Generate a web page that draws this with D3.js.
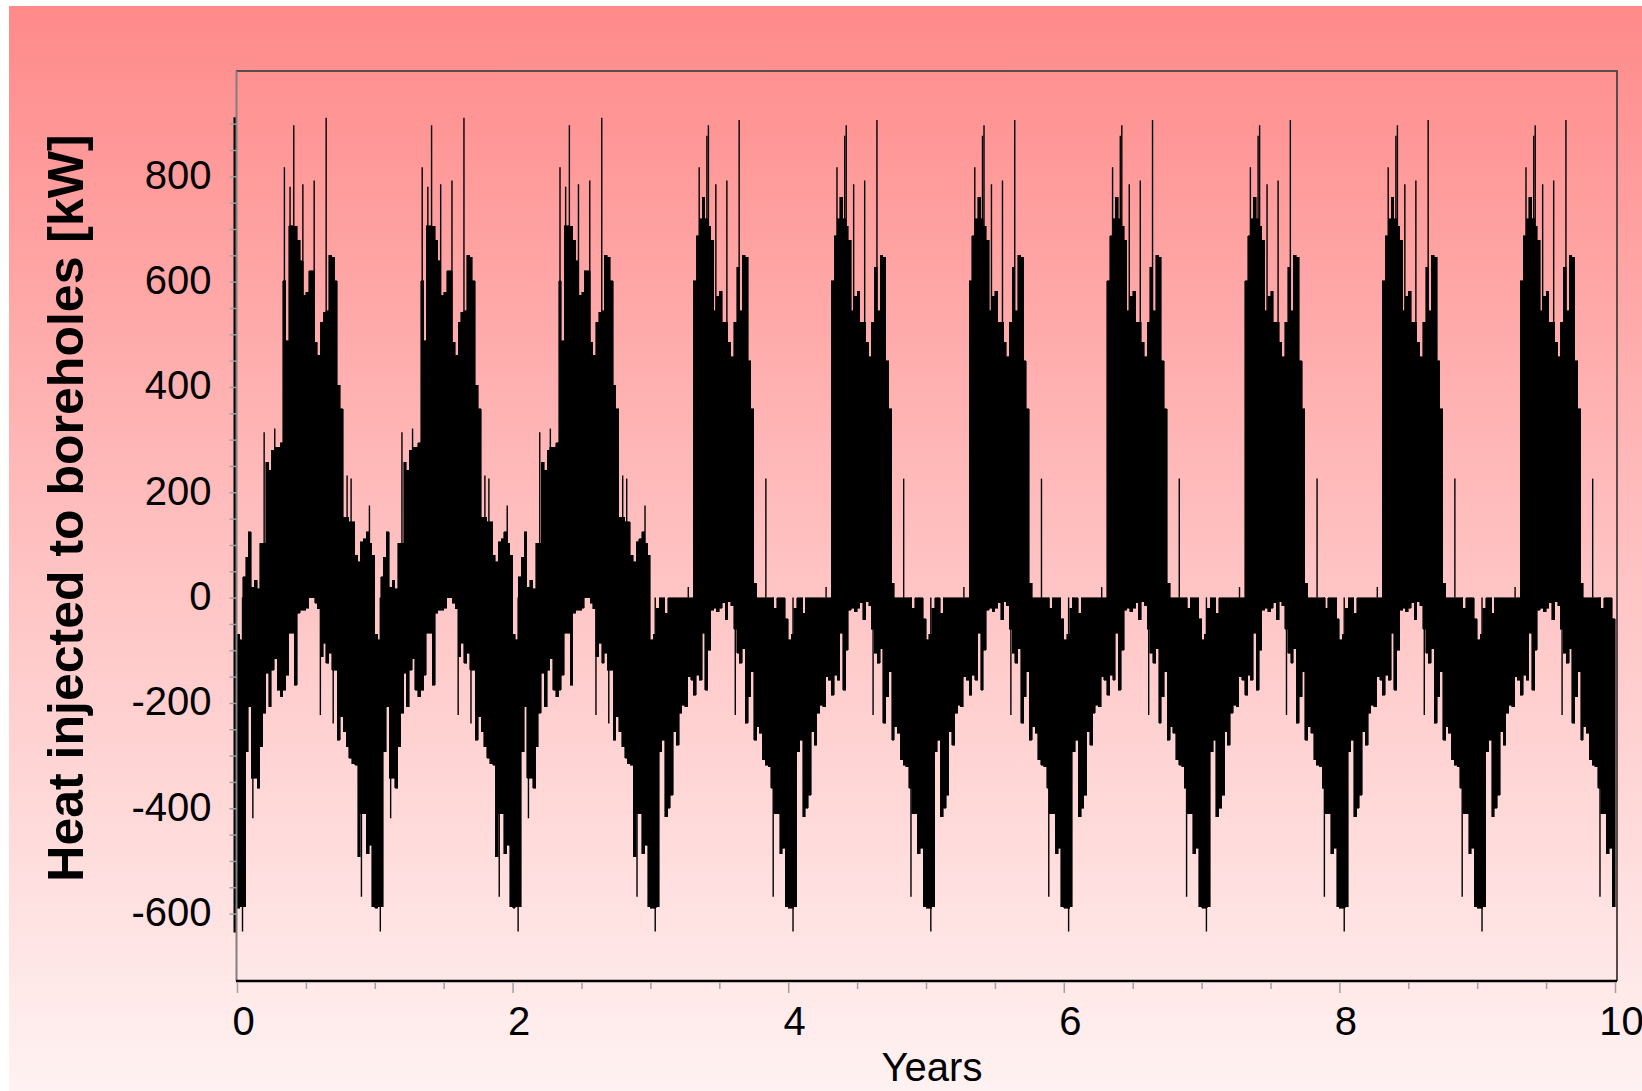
<!DOCTYPE html>
<html>
<head>
<meta charset="utf-8">
<script src="https://cdn.jsdelivr.net/npm/d3@7"></script>
<style>
    body { margin: 0; background: #ffffff; }
    svg text { font-family: "Liberation Sans", Arial, sans-serif; }
</style>
</head>
<body>
<div id="chart"></div>
<script>
// Values (kW), 48 bins per year
const years = [0, 1, 2, 3, 4, 5, 6, 7, 8, 9];
const profileOfYear = ["A", "A", "A", "B", "B", "B", "B", "B", "B", "B"];

// years 0-2
const hiA = [-70, -80, 40, 77, 125, 20, 33, 17, 103, 103, 257, 242, 280, 286, 286, 294,
             602, 488, 706, 706, 705, 679, 640, 574, 580, 621, 621, 485, 460, 523, 542, 545,
             650, 646, 602, 403, 359, 153, 153, 144, 144, 80, 68, 106, 112, 125, 103, 80];
const loA = [-590, -587, -587, -293, -207, -343, -343, -362, -283, -220, -144, -207, -138, -116, -176, -188,
             -176, -147, -68, -68, -166, -30, -24, -24, -20, 0, 0, -11, -21, -112, -87, -125,
             -106, -138, -138, -271, -226, -255, -283, -305, -315, -318, -492, -410, -410, -486, -470, -587];

// years 3-9
const hiB = [-80, -70, -20, 0, 0, -30, 0, 0, 0, 0, 0, 0, 0, 0, 0, 602,
             687, 719, 760, 719, 705, 679, 545, 572, 582, 523, 523, 485, 457, 523, 627, 545,
             650, 646, 450, 359, 27, 0, 0, 0, 0, 0, 0, -20, 0, 0, 0, -40];
const loB = [-590, -590, -587, -293, -271, -416, -400, -375, -255, -280, -220, -204, -207, -150, -157, -185,
             -147, -157, -68, -176, -100, -24, -20, -27, -20, -10, -42, -8, -15, -60, -106, -125,
             -97, -239, -188, -141, -271, -245, -258, -308, -318, -321, -362, -410, -410, -486, -476, -587];

// thin single spikes: [fraction of year, kW]
const spikesA = [[0.197, 314], [0.274, 321], [0.344, 817], [0.385, 780], [0.412, 897], [0.478, 785],
                 [0.56, 792], [0.647, 911], [0.799, 232], [0.828, 226], [0.961, 175],
                 [0.04, -634], [0.115, -419], [0.605, -223], [0.698, -239], [0.903, -568]];
const spikesB = [[0.275, 20], [0.354, 817], [0.41, 877], [0.421, 897], [0.475, 785], [0.555, 792],
                 [0.644, 907], [0.838, 226], [0.035, -634], [0.616, -223], [0.891, -568]];

const startSpike = [-636, 912];

const yTickLabels = [-600, -400, -200, 0, 200, 400, 600, 800];
const xTickLabels = [0, 2, 4, 6, 8, 10];

const W = 1642, H = 1091;
const plotLeft = 237, plotRight = 1615, plotTop = 71, plotBottom = 981;

const profiles = {
    A: { hi: hiA, lo: loA, spikes: spikesA },
    B: { hi: hiB, lo: loB, spikes: spikesB }
};

let svg = d3.select("#chart")
    .append("svg")
    .attr("width", W)
    .attr("height", H);

// background gradient
let grad = svg.append("defs").append("linearGradient")
    .attr("id", "bg")
    .attr("x1", 0).attr("y1", 0).attr("x2", 0).attr("y2", 1);
grad.append("stop").attr("offset", "0%").attr("stop-color", "#ff8a8a");
grad.append("stop").attr("offset", "55%").attr("stop-color", "#ffc6c6");
grad.append("stop").attr("offset", "100%").attr("stop-color", "#fff2f2");

svg.append("rect")
    .attr("x", 9).attr("y", 6)
    .attr("width", W - 9).attr("height", H - 6)
    .attr("fill", "url(#bg)");

let x = d3.scaleLinear().domain([0, 10]).range([plotLeft, plotRight]);
let y = d3.scaleLinear().domain([-728, 1000]).range([plotBottom, plotTop]);

// build series bins
let bins = [];
years.forEach((yr, i) => {
    let p = profiles[profileOfYear[i]];
    p.hi.forEach((h, k) => {
        bins.push({ t: yr + k / p.hi.length, hi: h, lo: p.lo[k] });
    });
});
bins.push({ t: 10, hi: hiB[hiB.length - 1], lo: loB[loB.length - 1] });

let area = d3.area()
    .x(d => x(d.t))
    .y0(d => y(d.lo))
    .y1(d => y(d.hi))
    .curve(d3.curveStepAfter);

svg.append("path")
    .datum(bins)
    .attr("d", area)
    .attr("fill", "#000")
    .attr("stroke", "#000")
    .attr("stroke-width", 0.6)
    .attr("shape-rendering", "crispEdges");

// spikes
let spikeData = [];
years.forEach((yr, i) => {
    profiles[profileOfYear[i]].spikes.forEach(s => spikeData.push({ t: yr + s[0], v: s[1] }));
});

svg.selectAll(".spike")
    .data(spikeData)
    .join("line")
    .attr("class", "spike")
    .attr("x1", d => x(d.t)).attr("x2", d => x(d.t))
    .attr("y1", y(0)).attr("y2", d => y(d.v))
    .attr("stroke", "#000")
    .attr("stroke-width", 1.4);

svg.append("line")
    .attr("x1", x(0) - 2).attr("x2", x(0) - 2)
    .attr("y1", y(startSpike[0])).attr("y2", y(startSpike[1]))
    .attr("stroke", "#000")
    .attr("stroke-width", 3);

// frame
svg.append("path")
    .attr("d", `M${plotLeft - 1},${plotTop} H${plotRight + 2} V${plotBottom}`)
    .attr("fill", "none")
    .attr("stroke", "#5a4a4a")
    .attr("stroke-width", 2);

// y axis
let yAxis = d3.axisLeft(y)
    .tickValues(d3.range(-600, 901, 50))
    .tickSize(7)
    .tickFormat(d => yTickLabels.includes(d) ? String(d) : "");

let gy = svg.append("g")
    .attr("transform", `translate(${plotLeft - 0.5},0)`)
    .call(yAxis);
gy.select(".domain").attr("stroke", "#808080").attr("stroke-width", 2)
    .attr("d", `M0,${plotTop}V${plotBottom}`);
gy.selectAll(".tick line").attr("stroke", "#a0a0a0").attr("stroke-width", 1.5);
gy.selectAll(".tick text")
    .attr("x", -25)
    .attr("dy", "0.30em")
    .attr("fill", "#000")
    .style("font-size", "40px");

// x axis
let xAxis = d3.axisBottom(x)
    .tickValues(d3.range(0, 10.01, 0.5))
    .tickSize(7)
    .tickFormat(d => xTickLabels.includes(d) ? String(d) : "");

let gx = svg.append("g")
    .attr("transform", `translate(0,${plotBottom})`)
    .call(xAxis);
gx.select(".domain").attr("stroke", "#000").attr("stroke-width", 2.5)
    .attr("d", `M${plotLeft - 1},0H${plotRight + 2}`);
gx.selectAll(".tick line")
    .attr("stroke", "#a0a0a0")
    .attr("stroke-width", 1.5)
    .attr("y1", 2)
    .attr("y2", d => xTickLabels.includes(d) ? 12 : 8);
gx.selectAll(".tick text")
    .attr("y", 26)
    .attr("dx", 6)
    .attr("dy", "0.71em")
    .attr("fill", "#000")
    .style("font-size", "40px");

// axis titles
svg.append("text")
    .attr("x", 932)
    .attr("y", 1081)
    .attr("text-anchor", "middle")
    .style("font-size", "40px")
    .text("Years");

svg.append("text")
    .attr("transform", "translate(83,508) rotate(-90)")
    .attr("text-anchor", "middle")
    .style("font-size", "50px")
    .style("font-weight", "bold")
    .text("Heat injected to boreholes [kW]");
</script>
</body>
</html>
